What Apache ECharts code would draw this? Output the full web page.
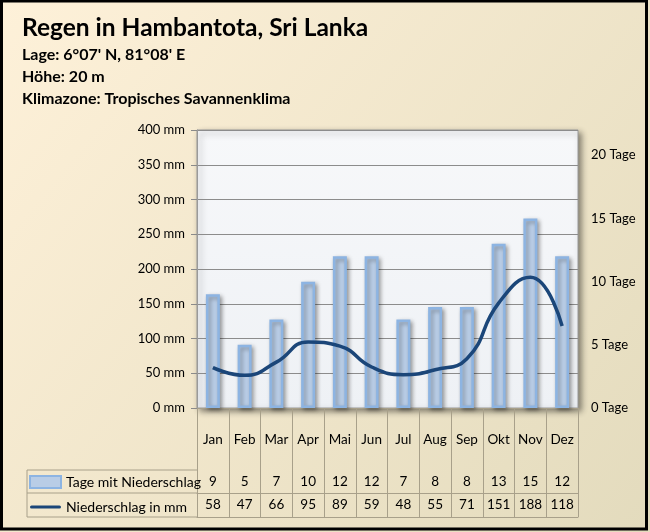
<!DOCTYPE html>
<html><head><meta charset="utf-8">
<script src="https://cdn.jsdelivr.net/npm/echarts@6/dist/echarts.min.js"></script>
<style>html,body{margin:0;padding:0;background:#fff}#c{width:650px;height:532px}</style>
</head><body><div id="c"></div>
<script>
var months = ['Jan','Feb','Mar','Apr','Mai','Jun','Jul','Aug','Sep','Okt','Nov','Dez'];
var rainDays = [9,5,7,10,12,12,7,8,8,13,15,12];
var rainMm = [58,47,66,95,89,59,48,55,71,151,188,118];
var mmTicks = [0,50,100,150,200,250,300,350,400];
var dayTicks = [0,5,10,15,20];

var FONT = 'Lato';
var chart = echarts.init(document.getElementById('c'), null, {renderer:'canvas'});
var tableLine = '#a8a08a';
var GL = 197, GR = 578, GT = 130, GB = 408;

chart.setOption({
  backgroundColor: new echarts.graphic.LinearGradient(0,0,1,1,[
    {offset:0,color:'#FEF1D9'},{offset:1,color:'#E3DBBD'}]),
  textStyle:{fontFamily:FONT},
  title:{
    left:22, top:16, padding:0,
    text:'Regen in Hambantota, Sri Lanka',
    textStyle:{fontFamily:FONT,fontSize:24.5,fontWeight:'bold',color:'#000'},
    subtext:'Lage: 6°07\' N, 81°08\' E\nHöhe: 20 m\nKlimazone: Tropisches Savannenklima',
    subtextStyle:{fontFamily:FONT,fontSize:16,fontWeight:'bold',color:'#000',lineHeight:22},
    itemGap:3
  },
  legend:{
    orient:'vertical', left:29, top:475, padding:0,
    itemWidth:31, itemHeight:12, itemGap:11,
    textStyle:{fontFamily:FONT,fontSize:14,color:'#000'},
    data:[{name:'Tage mit Niederschlag',icon:'rect'},
          {name:'Niederschlag in mm',icon:'path://M1.5,4.5 L28.5,4.5 A1.5,1.5 0 0 1 28.5,7.5 L1.5,7.5 A1.5,1.5 0 0 1 1.5,4.5 Z'}]
  },
  grid:{left:GL, right:650-GR, top:GT, bottom:532-GB, show:true,
    backgroundColor:new echarts.graphic.LinearGradient(0,0,0,1,[{offset:0,color:'#F7F8FA'},{offset:1,color:'#EEF1F5'}]),
    borderColor:'#9a9a9a', borderWidth:1,
    shadowColor:'rgba(0,0,0,0.45)', shadowBlur:6, shadowOffsetX:3, shadowOffsetY:3},
  xAxis:[
    {type:'category', data:months, position:'bottom',
     axisLine:{lineStyle:{color:'#8a8a8a',width:1}},
     axisTick:{show:true, interval:0, length:109, lineStyle:{color:tableLine}},
     axisLabel:{margin:25, fontSize:13.5, color:'#000', fontFamily:FONT, interval:0}},
    {type:'category', data:months, position:'bottom', offset:62,
     axisLine:{show:true, lineStyle:{color:tableLine}}, axisTick:{show:false},
     axisLabel:{margin:5, fontSize:13.5, color:'#000', fontFamily:FONT, interval:0,
       formatter:function(v,i){return String(rainDays[i]);}}},
    {type:'category', data:months, position:'bottom', offset:85,
     axisLine:{show:true, lineStyle:{color:tableLine}}, axisTick:{show:false},
     axisLabel:{margin:5, fontSize:13.5, color:'#000', fontFamily:FONT, interval:0,
       formatter:function(v,i){return String(rainMm[i]);}}},
    {type:'category', data:months, position:'bottom', offset:109,
     axisLine:{show:true, lineStyle:{color:tableLine}}, axisTick:{show:false},
     axisLabel:{show:false}}
  ],
  yAxis:[
    {type:'value', min:mmTicks[0], max:mmTicks[mmTicks.length-1], interval:50,
     axisLine:{show:true, lineStyle:{color:'#9a9a9a'}},
     axisTick:{show:true, length:6, lineStyle:{color:'#8a8a8a'}},
     splitLine:{lineStyle:{color:'#8c8c8c',width:1}},
     axisLabel:{margin:12, fontSize:13, color:'#000', fontFamily:FONT, formatter:'{value} mm'}},
    {type:'value', position:'right', min:dayTicks[0], max:22, interval:5,
     axisLine:{show:false}, axisTick:{show:false}, splitLine:{show:false},
     axisLabel:{margin:13, fontSize:13, color:'#000', fontFamily:FONT, showMaxLabel:false,
       formatter:'{value} Tage'}}
  ],
  series:[
    {name:'Tage mit Niederschlag', type:'bar', xAxisIndex:0, yAxisIndex:1, data:rainDays,
     barWidth:14,
     itemStyle:{color:'#B9CDE6', borderColor:'#8DB4E2', borderWidth:2.5,
       shadowColor:'rgba(0,0,0,0.35)', shadowBlur:4, shadowOffsetX:2, shadowOffsetY:2},
     z:2},
    {name:'Niederschlag in mm', type:'line', xAxisIndex:0, yAxisIndex:0, data:rainMm,
     smooth:0.5, symbol:'none',
     lineStyle:{color:'#1B4679', width:3.5},
     itemStyle:{color:'#1B4679'}, z:3}
  ],
  graphic:[
    {type:'line', shape:{x1:27,y1:470,x2:GL,y2:470}, style:{stroke:tableLine,lineWidth:1}},
    {type:'line', shape:{x1:27,y1:493,x2:GL,y2:493}, style:{stroke:tableLine,lineWidth:1}},
    {type:'line', shape:{x1:27,y1:517,x2:GL,y2:517}, style:{stroke:tableLine,lineWidth:1}},
    {type:'line', shape:{x1:27,y1:470,x2:27,y2:517}, style:{stroke:tableLine,lineWidth:1}},
    {type:'rect', shape:{x:1.5,y:1,width:645,height:528}, style:{fill:null,stroke:'#000',lineWidth:3}, z:100}
  ]
});
</script></body></html>
